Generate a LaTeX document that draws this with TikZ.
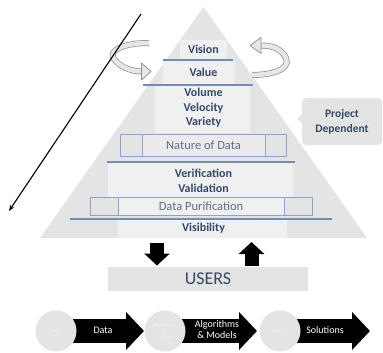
\documentclass[tikz,border=0pt]{standalone}
\usepackage{fontspec}
\setmainfont{Carlito}
\usetikzlibrary{arrows.meta}
\definecolor{pyr}{HTML}{E4E4E4}
\definecolor{tier}{HTML}{F0F0F0}
\definecolor{rulecol}{HTML}{6F8DB8}
\definecolor{ink}{HTML}{33496A}
\definecolor{softink}{HTML}{5E6F86}
\definecolor{twist}{HTML}{8E8E8E}
\definecolor{twistfill}{HTML}{E6E6E6}
\definecolor{dot}{HTML}{E4E4E4}
\begin{document}
\begin{tikzpicture}[x=1pt,y=-1pt,
  tierlabel/.style={text=ink,font=\fontsize{12}{14.5}\selectfont\bfseries,align=center,inner sep=0pt},
  plainlabel/.style={text=softink,font=\fontsize{12.5}{14}\selectfont,inner sep=0pt},
  tierrule/.style={draw=rulecol,line width=1.1pt},
  framebox/.style={draw=rulecol!80,line width=0.6pt},
  twistarrow/.style={draw=twist,double=twistfill,double distance=4.6pt,line width=0.7pt},
  twisthead/.style={fill=twistfill,draw=twist,line width=0.7pt,line join=round},
  blockarrow/.style={line width=14pt,-{Triangle[width=25pt,length=12pt]}},
  flowarrow/.style={line width=24pt,-{Triangle[width=37pt,length=18pt]}},
  flowlabel/.style={text=white,font=\fontsize{10}{11}\selectfont,align=center,inner sep=0pt},
  stage/.style={circle,fill=dot,minimum size=41pt,inner sep=0pt,text=white!90!gray,
    font=\fontsize{4.6}{6}\selectfont,align=center}]
\useasboundingbox (0,0) rectangle (383,353);

% pyramid body and its lighter tiers
\fill[pyr] (203.5,7) -- (367,238) -- (40,238) -- cycle;
\fill[tier] (180,40) rectangle (227,60);
\fill[tier] (163,60) rectangle (235,84);
\fill[tier] (155,86) rectangle (250,133);
\fill[tier] (108,163) rectangle (293,197);
\fill[tier] (118,219.5) rectangle (287,238);

% framed rows
\fill[tier!60!pyr] (142,134) rectangle (265,156);
\draw[framebox] (120,134) rectangle (286,156) (142,134) -- (142,156) (265,134) -- (265,156);
\fill[tier] (118,197) rectangle (284,215);
\draw[framebox] (90,197) rectangle (312,215) (118,197) -- (118,215) (284,197) -- (284,215);

% dividing rules
\draw[tierrule] (163,60) -- (233,60);
\draw[tierrule] (143,85) -- (253,85);
\draw[tierrule] (107,162) -- (295,162);
\draw[tierrule] (70,219) -- (332,219);

% tier labels
\node[tierlabel] (vision) at (203.5,49) {Vision};
\node[tierlabel] (value) at (203.5,72) {Value};
\node[tierlabel] (vvv) at (203.5,108) {Volume\\Velocity\\Variety};
\node[plainlabel] (nature) at (203.5,145) {Nature of Data};
\node[tierlabel] (verval) at (203.5,181) {Verification\\Validation};
\node[plainlabel] (purif) at (201,206) {Data Purification};
\node[tierlabel] (visib) at (203.5,228.5) {Visibility};

% project-dependent callout
\fill[pyr] (303,113) -- (297,118.5) -- (303,124) -- cycle;
\node[fill=pyr,rounded corners=4pt,minimum width=80pt,minimum height=47pt,
  text=ink,font=\fontsize{11.5}{15}\selectfont\bfseries,align=center] (proj) at (342,121.5) {Project\\Dependent};

% rotating arrows around the top tiers
\draw[twistarrow] (149,43) .. controls (122,43) and (108,51) .. (114,59)
  .. controls (119,66) and (130,71.5) .. (142,71.5);
\draw[twisthead] (141.5,63) -- (151,71.5) -- (141.5,80) -- cycle;
\draw[twistarrow] (252,75) .. controls (270,75) and (291,70) .. (286,58)
  .. controls (282,49) and (272,45.5) .. (261,45.5);
\draw[twisthead] (261,37.5) -- (250,45.5) -- (261,53.5) -- cycle;

% descending arrow
\coordinate (dtop) at (141,14);
\coordinate (dbot) at (9,211);
\draw[line width=1.1pt,-{Stealth[length=6pt,width=4.5pt]}] (dtop) -- (dbot);

% users
\node[fill=pyr,minimum width=200pt,minimum height=24pt,inner sep=0pt,
  text=ink,font=\fontsize{18}{20}\selectfont] (users) at (208,279) {USERS};
\coordinate (downA) at (157,243);
\coordinate (downB) at (157,265.5);
\coordinate (upA) at (251.5,265.5);
\coordinate (upB) at (251.5,242);
\draw[blockarrow] (downA) -- (downB);
\draw[blockarrow] (upA) -- (upB);

% bottom flow
\coordinate (c1) at (56,331);
\coordinate (c2) at (165,331);
\coordinate (c3) at (280,331);
\coordinate (t1) at (144,331);
\coordinate (t2) at (257,331);
\coordinate (t3) at (370,331);
\draw[flowarrow] (c1) -- (t1);
\draw[flowarrow] (c2) -- (t2);
\draw[flowarrow] (c3) -- (t3);
\node[stage] (s1) at (c1) {Data};
\node[stage] (s2) at (c2) {Algorithms\\\&\\models};
\node[stage] (s3) at (c3) {Solutions};
\node[flowlabel] (l1) at (103,330) {Data};
\node[flowlabel] (l2) at (217,330) {Algorithms\\\& Models};
\node[flowlabel] (l3) at (325,330) {Solutions};
\end{tikzpicture}
\end{document}
